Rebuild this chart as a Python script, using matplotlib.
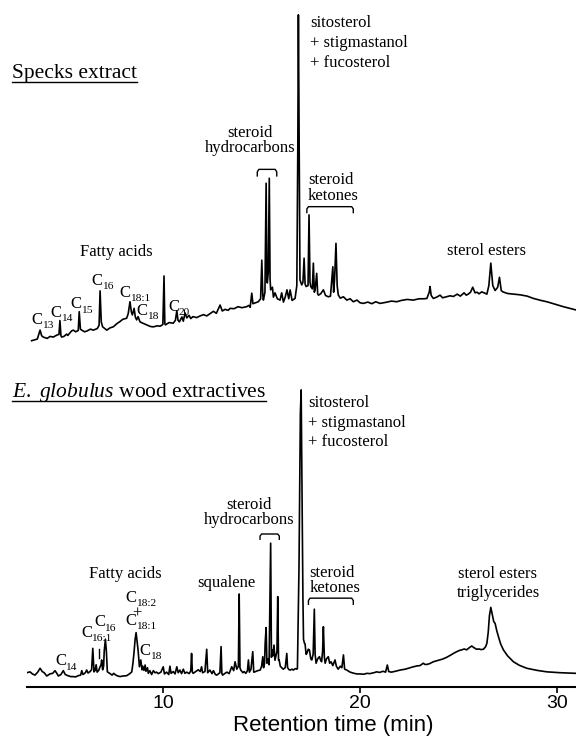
import matplotlib
matplotlib.use("Agg")
import matplotlib.pyplot as plt
from matplotlib.lines import Line2D

plt.rcParams['font.family'] = ['Liberation Serif', 'DejaVu Serif']
plt.rcParams['mathtext.fontset'] = 'custom'
plt.rcParams['mathtext.rm'] = 'Liberation Serif'
plt.rcParams['mathtext.it'] = 'Liberation Serif:italic'

specks_trace = [
    (3.31, 1.3), (3.60, 1.8), (3.74, 4.5), (3.82, 2.8), (3.90, 2.4), (4.10, 2.0),
    (4.25, 2.6), (4.41, 2.4), (4.59, 3.0), (4.70, 3.2), (4.75, 7.4), (4.80, 2.8),
    (4.84, 2.4), (4.95, 2.6), (5.09, 3.3), (5.15, 2.9), (5.26, 3.7), (5.35, 4.3),
    (5.43, 4.5), (5.55, 4.0), (5.68, 4.4), (5.73, 10.1), (5.79, 4.8), (5.86, 4.5),
    (6.00, 4.0), (6.11, 4.2), (6.30, 4.8), (6.45, 4.5), (6.65, 5.0), (6.74, 6.0),
    (6.79, 16.4), (6.85, 7.0), (6.92, 5.5), (7.13, 4.5), (7.30, 5.2), (7.46, 5.5),
    (7.65, 6.5), (7.80, 7.1), (7.95, 7.8), (8.14, 8.1), (8.22, 9.5), (8.31, 13.1),
    (8.38, 10.0), (8.43, 9.1), (8.52, 11.1), (8.58, 8.5), (8.65, 7.6), (8.72, 8.6),
    (8.82, 7.0), (9.00, 6.5), (9.16, 6.1), (9.35, 5.6), (9.50, 5.5), (9.70, 5.8),
    (9.84, 5.7), (9.98, 6.2), (10.04, 20.9), (10.08, 6.5), (10.11, 6.1), (10.30, 6.8),
    (10.51, 6.6), (10.62, 7.5), (10.69, 10.4), (10.75, 7.5), (10.82, 7.0), (10.95, 8.5),
    (11.02, 7.2), (11.11, 9.7), (11.20, 8.2), (11.31, 9.0), (11.40, 8.0), (11.51, 8.6),
    (11.70, 8.3), (11.87, 8.8), (12.05, 9.2), (12.21, 8.8), (12.40, 9.6), (12.55, 10.2),
    (12.70, 9.6), (12.89, 12.1), (13.00, 10.3), (13.14, 10.8), (13.30, 10.5), (13.40, 11.1),
    (13.60, 11.0), (13.80, 11.6), (14.00, 11.3), (14.24, 11.6), (14.35, 12.0), (14.42, 11.4),
    (14.50, 15.7), (14.56, 12.5), (14.70, 12.8), (14.83, 13.1), (14.95, 14.0), (15.01, 25.7),
    (15.06, 15.0), (15.09, 13.6), (15.17, 16.0), (15.23, 49.0), (15.27, 20.0), (15.29, 18.8),
    (15.34, 22.0), (15.39, 50.5), (15.43, 20.0), (15.46, 16.7), (15.55, 17.5), (15.60, 14.5),
    (15.68, 15.8), (15.80, 14.0), (15.94, 13.6), (16.02, 15.8), (16.11, 13.0), (16.20, 14.5),
    (16.29, 16.7), (16.38, 14.0), (16.45, 16.7), (16.55, 13.5), (16.70, 14.1), (16.79, 18.0),
    (16.84, 60.0), (16.87, 100.0), (16.91, 60.0), (16.95, 19.7), (17.04, 18.2), (17.10, 19.0),
    (17.16, 26.3), (17.21, 18.5), (17.26, 17.7), (17.36, 18.0), (17.41, 39.4), (17.46, 19.0),
    (17.50, 17.7), (17.58, 17.0), (17.63, 24.8), (17.68, 16.0), (17.72, 16.7), (17.80, 21.7),
    (17.85, 15.5), (17.89, 15.1), (18.00, 15.5), (18.14, 16.7), (18.25, 15.0), (18.39, 14.6),
    (18.50, 14.8), (18.62, 23.7), (18.66, 16.0), (18.71, 20.0), (18.78, 30.8), (18.84, 18.0),
    (18.90, 15.1), (19.00, 14.2), (19.16, 14.6), (19.33, 13.6), (19.50, 14.0), (19.66, 13.1),
    (19.85, 13.6), (20.00, 12.8), (20.17, 12.6), (20.40, 13.0), (20.60, 12.5), (20.80, 13.1),
    (21.02, 12.6), (21.30, 12.9), (21.60, 13.3), (21.87, 13.1), (22.10, 13.5), (22.40, 13.8),
    (22.71, 13.6), (23.00, 14.0), (23.25, 14.0), (23.40, 14.1), (23.52, 16.0), (23.56, 17.7),
    (23.62, 15.0), (23.73, 14.1), (23.90, 14.5), (24.07, 15.1), (24.20, 14.3), (24.40, 14.6),
    (24.58, 14.9), (24.75, 14.7), (24.94, 15.4), (25.10, 14.8), (25.29, 15.8), (25.40, 15.1),
    (25.50, 15.4), (25.62, 16.0), (25.73, 17.5), (25.85, 15.8), (25.95, 16.0), (26.05, 15.5),
    (26.19, 16.1), (26.35, 15.7), (26.45, 15.4), (26.55, 18.0), (26.65, 24.8), (26.75, 18.0),
    (26.87, 16.5), (27.00, 17.5), (27.09, 20.5), (27.18, 16.5), (27.26, 16.1), (27.50, 15.6),
    (27.80, 15.4), (28.14, 15.2), (28.50, 14.8), (28.82, 14.1), (29.20, 13.5), (29.50, 13.1),
    (29.90, 12.4), (30.34, 11.6), (30.99, 10.6),
]

wood_trace = [
    (3.07, 4.8), (3.23, 5.1), (3.35, 4.4), (3.48, 4.0), (3.62, 5.0), (3.74, 6.3),
    (3.85, 5.2), (3.95, 4.8), (4.08, 3.7), (4.24, 4.4), (4.38, 4.6), (4.50, 5.5),
    (4.60, 4.5), (4.67, 3.7), (4.80, 4.2), (4.92, 5.5), (5.02, 4.2), (5.16, 3.8),
    (5.30, 3.5), (5.43, 3.5), (5.55, 3.4), (5.67, 3.8), (5.80, 4.0), (5.86, 5.5),
    (5.92, 4.2), (6.04, 4.8), (6.11, 5.7), (6.18, 4.7), (6.28, 5.2), (6.36, 5.8),
    (6.42, 13.0), (6.48, 5.1), (6.54, 5.6), (6.59, 7.5), (6.64, 5.0), (6.72, 5.6),
    (6.79, 6.8), (6.84, 7.5), (6.87, 9.1), (6.92, 5.8), (6.97, 7.0), (7.00, 12.0),
    (7.06, 16.1), (7.11, 12.0), (7.16, 5.1), (7.30, 4.5), (7.40, 4.0), (7.48, 4.6),
    (7.55, 4.2), (7.65, 3.8), (7.80, 3.5), (7.95, 3.7), (8.14, 3.8), (8.30, 4.5),
    (8.40, 5.1), (8.46, 8.0), (8.52, 12.0), (8.57, 16.0), (8.62, 18.3), (8.68, 15.0),
    (8.72, 12.5), (8.79, 6.8), (8.86, 9.1), (8.92, 5.8), (8.96, 7.0), (9.02, 5.6),
    (9.08, 7.4), (9.12, 5.3), (9.20, 6.5), (9.24, 4.6), (9.32, 5.5), (9.41, 4.2),
    (9.50, 5.5), (9.58, 4.8), (9.66, 5.0), (9.75, 4.5), (9.88, 5.0), (10.00, 6.8),
    (10.06, 4.4), (10.17, 5.0), (10.28, 4.2), (10.34, 7.0), (10.40, 4.6), (10.51, 5.2),
    (10.60, 4.4), (10.69, 6.8), (10.76, 4.8), (10.85, 5.7), (10.93, 4.5), (11.02, 6.0),
    (11.10, 4.6), (11.19, 5.0), (11.32, 4.5), (11.40, 5.5), (11.44, 11.3), (11.48, 5.0),
    (11.52, 4.6), (11.65, 5.2), (11.78, 5.8), (11.88, 5.2), (11.95, 6.8), (12.00, 4.8),
    (12.12, 5.2), (12.21, 12.7), (12.26, 4.8), (12.37, 5.7), (12.48, 4.5), (12.55, 5.5),
    (12.65, 4.2), (12.72, 4.0), (12.88, 4.8), (12.94, 13.6), (12.98, 4.5), (13.02, 4.0),
    (13.14, 4.6), (13.24, 5.0), (13.35, 4.5), (13.48, 6.8), (13.58, 5.5), (13.65, 8.5),
    (13.74, 6.0), (13.82, 7.0), (13.86, 31.3), (13.90, 6.5), (13.94, 5.7), (14.05, 4.8),
    (14.11, 5.2), (14.20, 4.6), (14.28, 5.5), (14.33, 9.1), (14.38, 5.0), (14.46, 6.0),
    (14.55, 11.9), (14.60, 5.0), (14.66, 5.1), (14.80, 5.5), (14.93, 5.7), (15.00, 7.0),
    (15.06, 10.2), (15.10, 6.5), (15.15, 8.0), (15.18, 14.7), (15.23, 20.0), (15.27, 8.0),
    (15.32, 9.5), (15.38, 7.5), (15.46, 48.4), (15.50, 10.0), (15.53, 12.5), (15.58, 10.5),
    (15.63, 14.1), (15.68, 9.0), (15.72, 10.2), (15.78, 12.0), (15.82, 30.4), (15.86, 9.0),
    (15.89, 9.1), (15.95, 7.0), (16.02, 6.5), (16.10, 6.0), (16.20, 6.5), (16.28, 11.3),
    (16.32, 6.5), (16.40, 5.8), (16.45, 5.7), (16.55, 6.0), (16.61, 5.7), (16.72, 6.2),
    (16.79, 6.0), (16.82, 6.2), (16.90, 40.0), (16.97, 92.0), (17.01, 100.0), (17.05, 70.0),
    (17.10, 30.0), (17.13, 16.0), (17.18, 14.7), (17.21, 14.5), (17.26, 11.0), (17.30, 11.3),
    (17.37, 12.7), (17.43, 12.5), (17.50, 9.5), (17.55, 9.1), (17.62, 11.0), (17.68, 26.2),
    (17.72, 11.0), (17.77, 8.0), (17.85, 9.5), (17.94, 10.2), (18.00, 9.0), (18.05, 8.5),
    (18.10, 12.0), (18.14, 20.3), (18.19, 10.0), (18.23, 8.0), (18.30, 9.5), (18.39, 10.2),
    (18.46, 8.0), (18.53, 8.5), (18.62, 7.2), (18.73, 9.1), (18.80, 7.0), (18.89, 6.0),
    (19.00, 7.0), (19.08, 6.5), (19.16, 10.8), (19.22, 6.0), (19.33, 5.7), (19.50, 5.0),
    (19.70, 4.6), (19.84, 4.4), (20.00, 4.4), (20.20, 4.3), (20.35, 4.6), (20.50, 4.5),
    (20.70, 4.8), (20.85, 5.1), (21.00, 4.9), (21.17, 5.3), (21.30, 5.0), (21.39, 7.4),
    (21.46, 5.2), (21.60, 5.0), (21.80, 5.3), (22.04, 5.7), (22.30, 6.0), (22.50, 6.4),
    (22.71, 6.8), (22.90, 7.1), (23.05, 7.2), (23.22, 8.0), (23.30, 7.6), (23.41, 7.6),
    (23.55, 7.9), (23.73, 8.5), (24.00, 9.0), (24.20, 9.4), (24.41, 10.0), (24.60, 10.7),
    (24.80, 11.5), (24.92, 11.9), (25.05, 12.3), (25.17, 12.5), (25.30, 12.8), (25.42, 12.5),
    (25.55, 13.2), (25.68, 13.8), (25.78, 13.3), (25.93, 12.7), (26.05, 12.8), (26.15, 12.6),
    (26.27, 12.7), (26.38, 13.5), (26.45, 14.7), (26.52, 18.5), (26.58, 24.0), (26.65, 26.8),
    (26.72, 24.5), (26.80, 22.0), (26.87, 21.4), (26.95, 19.0), (27.04, 16.9), (27.15, 14.5),
    (27.29, 12.5), (27.50, 10.5), (27.80, 8.5), (28.10, 7.3), (28.48, 6.3), (29.00, 5.6),
    (29.50, 5.1), (30.20, 4.8), (30.99, 4.6),
]

specks_time, specks_signal = zip(*specks_trace)
wood_time, wood_signal = zip(*wood_trace)

x_ticks = [10, 20, 30]

W, H = 576, 739
SERIF = 12


def px_box(left, top, right, bottom):
    return [left / W, 1 - bottom / H, (right - left) / W, (bottom - top) / H]


def label(ax, t, v, s, ha='left', size=SERIF, **kw):
    ax.text(t, v, s, ha=ha, va='baseline', fontsize=size, **kw)


def chem(ax, t, v, sub, size=SERIF):
    # "C" with a subscript carbon number
    ax.text(t, v, 'C', ha='left', va='baseline', fontsize=size)
    ax.annotate(sub, xy=(t, v), xytext=(0.63 * size, -0.27 * size),
                textcoords='offset points', ha='left', va='baseline',
                fontsize=size * 0.68, annotation_clip=False)


def bracket(ax, t0, t1, v_top, v_leg):
    r = (v_top - v_leg) * 0.35
    ax.plot([t0, t0, t0 + 0.08, t1 - 0.08, t1, t1],
            [v_leg, v_top - r, v_top, v_top, v_top - r, v_leg],
            color='black', lw=1.0, solid_capstyle='butt', clip_on=False)


fig = plt.figure(figsize=(W / 100, H / 100), dpi=100)
ax_top = fig.add_axes(px_box(26.5, 0, 576, 345))
ax_bot = fig.add_axes(px_box(26.5, 370, 576, 687))

for ax in (ax_top, ax_bot):
    ax.set_xlim(3.05, 30.98)

ax_top.set_ylim(0, 104.5)
ax_bot.set_ylim(0, 106.7)

ax_top.plot(specks_time, specks_signal, color='black', lw=1.2)
ax_bot.plot(wood_time, wood_signal, color='black', lw=1.2)

ax_top.axis('off')
for side in ('left', 'right', 'top'):
    ax_bot.spines[side].set_visible(False)
ax_bot.spines['bottom'].set_linewidth(1.5)
ax_bot.set_yticks([])
ax_bot.set_xticks(x_ticks)
ax_bot.tick_params(axis='x', direction='out', length=4, width=1.2, pad=2,
                   labelsize=14, labelfontfamily='Liberation Sans')

# --- top panel annotations
label(ax_top, 7.63, 27.0, 'Fatty acids', ha='center')
chem(ax_top, 3.31, 6.5, '13')
chem(ax_top, 4.28, 8.6, '14')
chem(ax_top, 5.30, 11.1, '15')
chem(ax_top, 6.33, 18.2, '16')
chem(ax_top, 7.77, 14.6, '18:1')
chem(ax_top, 8.65, 9.1, '18')
chem(ax_top, 10.26, 10.3, '20')
label(ax_top, 14.41, 62.9, 'steroid', ha='center')
label(ax_top, 14.41, 58.5, 'hydrocarbons', ha='center')
bracket(ax_top, 14.78, 15.77, 53.2, 51.0)
label(ax_top, 17.46, 96.2, 'sitosterol')
label(ax_top, 17.46, 90.3, '+ stigmastanol')
label(ax_top, 17.46, 84.3, '+ fucosterol')
label(ax_top, 17.35, 48.7, 'steroid')
label(ax_top, 17.35, 43.9, 'ketones')
bracket(ax_top, 17.30, 19.66, 41.9, 39.9)
label(ax_top, 24.43, 27.3, 'sterol esters')

# --- bottom panel annotations
label(ax_bot, 8.06, 36.7, 'Fatty acids', ha='center')
label(ax_bot, 13.23, 33.7, 'squalene', ha='center')
chem(ax_bot, 4.50, 7.4, '14')
chem(ax_bot, 5.82, 16.9, '16:1')
ax_bot.plot([6.74, 6.74], [9.8, 12.8], color='black', lw=1.0)
chem(ax_bot, 6.48, 20.5, '16')
chem(ax_bot, 8.06, 28.7, '18:2')
ax_bot.text(8.65, 24.8, '+', ha='center', va='center', fontsize=SERIF)
chem(ax_bot, 8.06, 20.9, '18:1')
chem(ax_bot, 8.77, 10.8, '18')
label(ax_bot, 14.35, 59.8, 'steroid', ha='center')
label(ax_bot, 14.35, 54.9, 'hydrocarbons', ha='center')
bracket(ax_bot, 14.92, 15.90, 51.5, 49.5)
label(ax_bot, 17.38, 94.1, 'sitosterol')
label(ax_bot, 17.38, 87.6, '+ stigmastanol')
label(ax_bot, 17.38, 81.1, '+ fucosterol')
label(ax_bot, 17.43, 36.9, 'steroid')
label(ax_bot, 17.43, 32.1, 'ketones')
bracket(ax_bot, 17.38, 19.66, 29.9, 27.6)
label(ax_bot, 25.0, 36.7, 'sterol esters')
label(ax_bot, 24.95, 30.4, 'triglycerides')

# panel titles (underlined) and axis title
titles = []
for base_px, s in ((78, 'Specks extract'),
                   (397, r'$\mathit{E.\ globulus}$ wood extractives')):
    y = 1 - base_px / H
    titles.append((fig.text(12 / W, y, s, ha='left', va='baseline', fontsize=15.5), y))

fig.text(333.5 / W, 1 - 731 / H, 'Retention time (min)', ha='center', va='baseline',
         fontsize=16, fontfamily='Liberation Sans')

fig.canvas.draw()
for txt, y in titles:
    bb = txt.get_window_extent()
    yl = y - 3.5 / H
    fig.add_artist(Line2D([bb.x0 / W, bb.x1 / W], [yl, yl], color='black', lw=1.0))

fig.savefig('out.png', dpi=100)
